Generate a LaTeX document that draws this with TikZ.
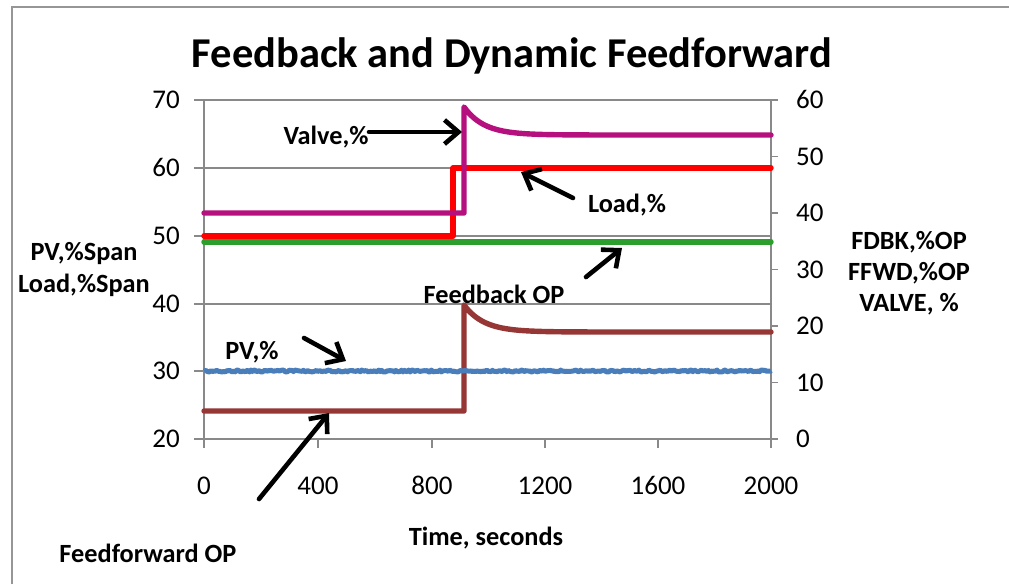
\documentclass[tikz,border=0pt]{standalone}
\usepackage{fontspec}
\setmainfont{Carlito}
\usetikzlibrary{arrows.meta}
\definecolor{valvec}{RGB}{182,16,126}
\definecolor{loadc}{RGB}{255,0,0}
\definecolor{fbc}{RGB}{44,158,46}
\definecolor{ffc}{RGB}{150,55,53}
\definecolor{pvc}{RGB}{74,126,187}
\definecolor{gridc}{RGB}{137,137,137}
\definecolor{framec}{RGB}{150,150,150}
\begin{document}
\begin{tikzpicture}[x=1pt,y=-1pt,
  gridline/.style={draw=gridc, line width=1.7pt},
  series/.style={line width=5.4pt, line join=round, line cap=round},
  callout/.style={draw=black, line width=4.6pt, line cap=round, line join=round, -{Straight Barb[length=14pt,width=24pt]}},
  ticklab/.style={font=\fontsize{27}{31}\selectfont, inner sep=0pt},
  boldlab/.style={font=\bfseries\fontsize{26.3}{30}\selectfont, inner sep=0pt}]
\useasboundingbox (0,0) rectangle (1009,584);
\fill[white] (0,0) rectangle (1009,584);
% frame
\draw[framec, line width=2.2pt] (12,584) -- (12,7) -- (1009,7);
% title
\node[font=\bfseries\fontsize{42.5}{48}\selectfont, inner sep=0pt, anchor=base] (title) at (512,67) {Feedback and Dynamic Feedforward};
% grid lines and left ticks
\foreach \yy in {100,168,236,304,371,439} {\draw[gridline] (194,\yy) -- (771,\yy);}
% axes
\draw[gridline] (204,100) -- (204,448);
\draw[gridline] (771,100) -- (771,448);
\foreach \xx in {204,318,432,545,658,771} {\draw[gridline] (\xx,439) -- (\xx,448);}
\foreach \yy in {100,156.5,213,269.5,326,382.5,439} {\draw[gridline] (771,\yy) -- (778,\yy);}
% left tick labels
\foreach \v/\yy in {70/100,60/168,50/236,40/304,30/371,20/439} {\node[ticklab, anchor=base east] (l\v) at (180,\yy+8.5) {\v};}
% right tick labels
\foreach \v/\yy in {60/100,50/156.5,40/213,30/269.5,20/326,10/382.5,0/439} {\node[ticklab, anchor=base west] (r\v) at (796,\yy+8.5) {\v};}
% bottom tick labels
\foreach \v/\xx in {0/204,400/318,800/432,1200/545,1600/658,2000/771} {\node[ticklab, anchor=base] (b\v) at (\xx,494) {\v};}
% series
\draw[series, ffc] (204,411) -- (464,411) -- plot[domain=464:771, samples=120] (\x,{332-27*exp(-(\x-464)/20)});
\draw[series, fbc] (204,242) -- (771,242);
\draw[series, loadc] (204,236) -- (453,236) -- (453,168) -- (771,168);
\draw[series, valvec] (204,213) -- (464,213) -- plot[domain=464:771, samples=120] (\x,{135-28*exp(-(\x-464)/20)});
\pgfmathsetseed{7}
\draw[series, pvc, line width=5pt, line cap=butt] plot[domain=204:771, samples=400] (\x,{371+1.0*rand});
% labels
\node[boldlab] (valve) at (326,137) {Valve,\%};
\node[boldlab] (load) at (627,205) {Load,\%};
\node[boldlab] (fbop) at (494,294) {Feedback OP};
\node[boldlab] (pv) at (252,352) {PV,\%};
\node[boldlab] (ffop) at (148,553) {Feedforward OP};
\node[boldlab] (time) at (486,538) {Time, seconds};
\node[boldlab, align=center] (lefttitle) at (84,269) {PV,\%Span\\[2pt]Load,\%Span};
\node[boldlab, align=center] (righttitle) at (909,273) {FDBK,\%OP\\[1pt]FFWD,\%OP\\[1pt]VALVE, \%};
% callout arrows
\coordinate (valvehead) at (462,132);
\coordinate (valvetail) at (369,132);
\coordinate (loadtail) at (573,198);
\coordinate (loadhead) at (521,172);
\coordinate (fbtail) at (586,277);
\coordinate (fbhead) at (622,248);
\coordinate (pvtail) at (304,338);
\coordinate (pvhead) at (346,361);
\coordinate (fftail) at (259,499);
\coordinate (ffhead) at (329,413);
\draw[callout] (valvetail) -- (valvehead);
\draw[callout] (loadtail) -- (loadhead);
\draw[callout] (fbtail) -- (fbhead);
\draw[callout] (pvtail) -- (pvhead);
\draw[callout] (fftail) -- (ffhead);
\end{tikzpicture}
\end{document}
